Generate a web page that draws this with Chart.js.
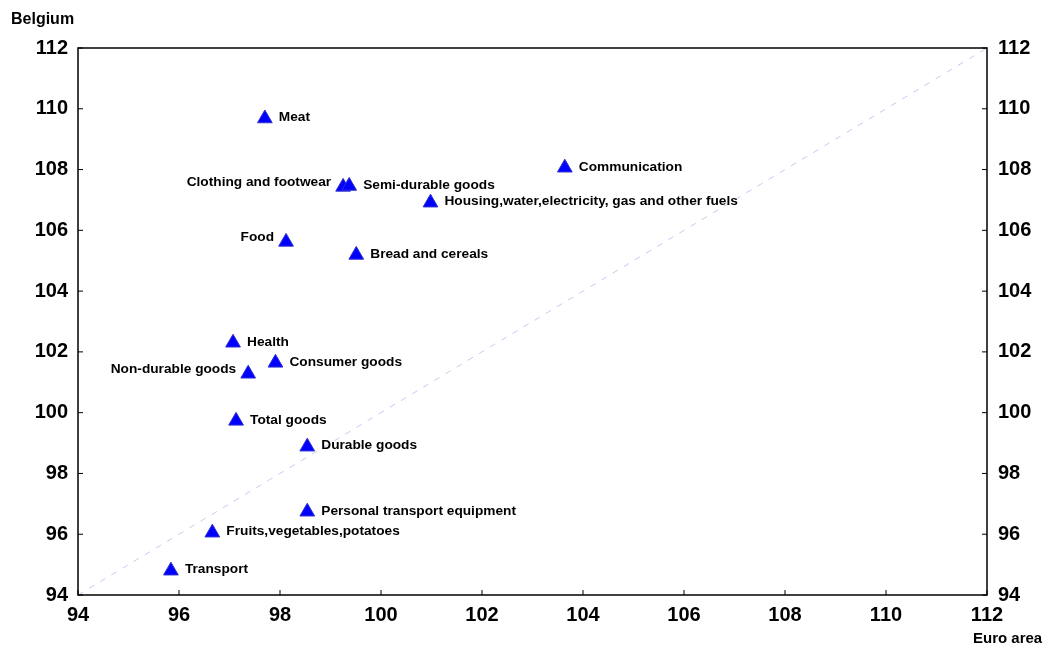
<!DOCTYPE html>
<html>
<head>
<meta charset="utf-8">
<script src="https://cdn.jsdelivr.net/npm/chart.js@4"></script>
<style>
  html, body { margin: 0; padding: 0; background: #fff; }
  #wrap { width: 1052px; height: 649px; }
</style>
</head>
<body>
<div id="wrap"><canvas id="chart" width="1052" height="649"></canvas></div>
<script>
// categories and values (index, euro area vs Belgium)
const categories = ['Meat', 'Communication', 'Clothing and footwear', 'Semi-durable goods',
  'Housing,water,electricity, gas and other fuels', 'Food', 'Bread and cereals', 'Health',
  'Consumer goods', 'Non-durable goods', 'Total goods', 'Durable goods',
  'Personal transport equipment', 'Fruits,vegetables,potatoes', 'Transport'];
const euroArea = [97.7, 103.64, 99.25, 99.37, 100.98, 98.12, 99.51, 97.07, 97.91, 97.37, 97.13, 98.54, 98.54, 96.66, 95.84];
const belgium = [109.68, 108.06, 107.43, 107.46, 106.91, 105.62, 105.19, 102.3, 101.64, 101.28, 99.73, 98.88, 96.74, 96.05, 94.8];
const leftLabels = ['Clothing and footwear', 'Food', 'Non-durable goods'];
const axisTicks = [94, 96, 98, 100, 102, 104, 106, 108, 110, 112];

const tickFont = { family: 'Liberation Sans, Arial, sans-serif', size: 20, weight: 'bold' };

const points = categories.map((c, i) => ({ x: euroArea[i], y: belgium[i], name: c }));

const frame = {
  id: 'frame',
  afterDraw(chart) {
    const { ctx, chartArea: a, scales } = chart;
    ctx.save();
    ctx.strokeStyle = '#000';
    ctx.lineWidth = 1.5;
    ctx.strokeRect(a.left, a.top, a.right - a.left, a.bottom - a.top);
    // inward tick marks
    ctx.lineWidth = 1;
    ctx.beginPath();
    axisTicks.forEach(v => {
      const px = scales.x.getPixelForValue(v);
      ctx.moveTo(px, a.bottom); ctx.lineTo(px, a.bottom - 5);
      const py = scales.y.getPixelForValue(v);
      ctx.moveTo(a.left, py); ctx.lineTo(a.left + 5, py);
      ctx.moveTo(a.right, py); ctx.lineTo(a.right - 5, py);
    });
    ctx.stroke();

    // point labels
    ctx.fillStyle = '#000';
    ctx.font = 'bold 13.7px Liberation Sans, Arial, sans-serif';
    ctx.textBaseline = 'middle';
    const meta = chart.getDatasetMeta(0);
    meta.data.forEach((el, i) => {
      const name = categories[i];
      if (leftLabels.includes(name)) {
        ctx.textAlign = 'right';
        ctx.fillText(name, el.x - 12, el.y - 5);
      } else {
        ctx.textAlign = 'left';
        ctx.fillText(name, el.x + 14, el.y - 1);
      }
    });

    // axis titles
    ctx.font = 'bold 16px Liberation Sans, Arial, sans-serif';
    ctx.textAlign = 'left';
    ctx.fillText('Belgium', 11, 20);
    ctx.font = 'bold 15px Liberation Sans, Arial, sans-serif';
    ctx.fillText('Euro area', 973, 639);
    ctx.restore();
  }
};

new Chart(document.getElementById('chart'), {
  type: 'scatter',
  data: {
    datasets: [
      {
        data: points,
        pointStyle: 'triangle',
        pointRadius: 8.5,
        pointHoverRadius: 8.5,
        backgroundColor: '#0000ff',
        borderColor: '#3030d0',
        borderWidth: 1
      },
      {
        type: 'line',
        data: [{ x: 94, y: 94 }, { x: 112, y: 112 }],
        borderColor: '#c8c8f0',
        borderWidth: 1,
        borderDash: [6, 7],
        pointRadius: 0,
        fill: false
      }
    ]
  },
  options: {
    responsive: false,
    animation: false,
    layout: { padding: { top: 48, left: 0, right: 0, bottom: 0 } },
    plugins: { legend: { display: false }, tooltip: { enabled: false } },
    scales: {
      x: {
        type: 'linear', min: 94, max: 112,
        afterBuildTicks: s => { s.ticks = axisTicks.map(v => ({ value: v })); },
        afterFit: s => { s.height = 54; },
        ticks: { font: tickFont, color: '#000', padding: 8 },
        grid: { drawOnChartArea: false, drawTicks: false },
        border: { display: false }
      },
      y: {
        type: 'linear', position: 'left', min: 94, max: 112,
        afterBuildTicks: s => { s.ticks = axisTicks.map(v => ({ value: v })); },
        afterFit: s => { s.width = 78; },
        ticks: { font: tickFont, color: '#000', padding: 10 },
        grid: { drawOnChartArea: false, drawTicks: false },
        border: { display: false }
      },
      y2: {
        type: 'linear', position: 'right', min: 94, max: 112,
        afterBuildTicks: s => { s.ticks = axisTicks.map(v => ({ value: v })); },
        afterFit: s => { s.width = 65; },
        ticks: { font: tickFont, color: '#000', padding: 11 },
        grid: { drawOnChartArea: false, drawTicks: false },
        border: { display: false }
      }
    }
  },
  plugins: [frame]
});
</script>
</body>
</html>
